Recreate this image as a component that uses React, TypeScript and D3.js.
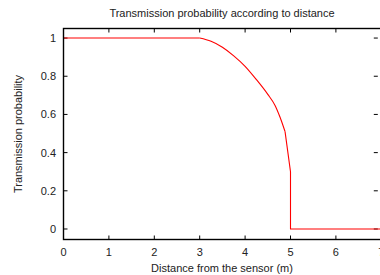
import * as d3 from 'd3'

// distance (m) vs transmission probability
const distance = [0, 3, 3.25, 3.5, 3.75, 4.0, 4.25, 4.5, 4.66, 4.77, 4.88, 5.0, 5.0, 7]
const probability = [1, 1, 0.983, 0.952, 0.907, 0.852, 0.782, 0.705, 0.647, 0.585, 0.51, 0.3, 0, 0]
const xTicks = [0, 1, 2, 3, 4, 5, 6, 7]
const yTicks = [0, 0.2, 0.4, 0.6, 0.8, 1]

const WIDTH = 380
const HEIGHT = 275
const MARGIN = { LEFT: 63.5, RIGHT: 381.3, TOP: 28.5, BOTTOM: 239.5 }
const FONT = 'Liberation Sans, Arial, sans-serif'

export default function App() {
  const x = d3.scaleLinear().domain([0, 7]).range([MARGIN.LEFT, MARGIN.RIGHT])
  const y = d3.scaleLinear().domain([-0.055, 1.05]).range([MARGIN.BOTTOM, MARGIN.TOP])

  const pts: [number, number][] = distance.map((d, i) => [d, probability[i]])
  // smooth arc between 3 m and the kink just before 5 m, straight elsewhere
  const arcPts = pts.filter(p => p[0] >= 3 && p[0] <= 4.88)
  const flatPts = pts.filter(p => p[0] <= 3)
  const tailPts = pts.filter(p => p[0] >= 4.88)

  const smooth = d3.line<[number, number]>().x(d => x(d[0])).y(d => y(d[1])).curve(d3.curveMonotoneX)
  const straight = d3.line<[number, number]>().x(d => x(d[0])).y(d => y(d[1]))

  const tickLen = 4

  return (
    <svg width={WIDTH} height={HEIGHT}
      style={{ position: 'absolute', left: 0, top: 0, background: '#fff', overflow: 'hidden' }}>
      <text x={222} y={17} textAnchor="middle" fontFamily={FONT} fontSize={11} fill="#222">
        Transmission probability according to distance
      </text>

      {/* ticks, mirrored on all sides */}
      {xTicks.map(t => (
        <g key={'x' + t}>
          <line x1={x(t)} x2={x(t)} y1={MARGIN.BOTTOM} y2={MARGIN.BOTTOM - tickLen} stroke="#000" />
          <line x1={x(t)} x2={x(t)} y1={MARGIN.TOP} y2={MARGIN.TOP + tickLen} stroke="#000" />
          <text x={x(t)} y={256} textAnchor="middle" fontFamily={FONT} fontSize={11} fill="#222">{t}</text>
        </g>
      ))}
      {yTicks.map(t => (
        <g key={'y' + t}>
          <line x1={MARGIN.LEFT} x2={MARGIN.LEFT + tickLen} y1={y(t)} y2={y(t)} stroke="#000" />
          <line x1={MARGIN.RIGHT - 3.5} x2={MARGIN.RIGHT - 3.5 - tickLen} y1={y(t)} y2={y(t)} stroke="#000" />
          <text x={56} y={y(t) + 4} textAnchor="end" fontFamily={FONT} fontSize={11} fill="#222">
            {d3.format('~g')(t)}
          </text>
        </g>
      ))}

      <g fill="none" stroke="#ff0000" strokeWidth={1.1}>
        <path d={straight(flatPts) ?? ''} />
        <path d={smooth(arcPts) ?? ''} />
        <path d={straight(tailPts) ?? ''} />
      </g>

      <rect x={MARGIN.LEFT} y={MARGIN.TOP} width={MARGIN.RIGHT - MARGIN.LEFT} height={MARGIN.BOTTOM - MARGIN.TOP}
        fill="none" stroke="#000" strokeWidth={1.4} />

      <text x={222} y={272} textAnchor="middle" fontFamily={FONT} fontSize={11} fill="#222">
        Distance from the sensor (m)
      </text>
      <text transform={`translate(22,${(MARGIN.TOP + MARGIN.BOTTOM) / 2}) rotate(-90)`} textAnchor="middle"
        fontFamily={FONT} fontSize={11} fill="#222">
        Transmission probability
      </text>
    </svg>
  )
}
